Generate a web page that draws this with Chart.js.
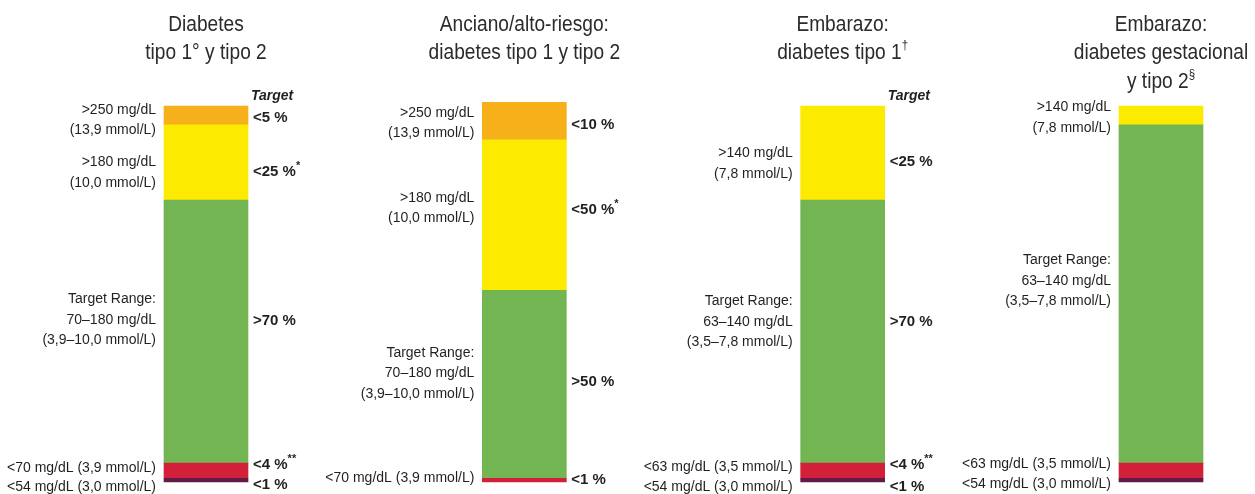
<!DOCTYPE html>
<html>
<head>
<meta charset="utf-8">
<script src="https://cdn.jsdelivr.net/npm/chart.js@4.4.1/dist/chart.umd.min.js"></script>
<style>
  html, body { margin: 0; padding: 0; background: #ffffff; }
  #wrap { width: 1255px; height: 494px; }
</style>
</head>
<body>
<div id="wrap"><canvas id="tir" width="1255" height="494"></canvas></div>
<script>
// Time-in-range targets per population (percent of readings, stacked bottom to top)
const categories = [
  ["Diabetes", "tipo 1° y tipo 2"],
  ["Anciano/alto-riesgo:", "diabetes tipo 1 y tipo 2"],
  ["Embarazo:", "diabetes tipo 1†"],
  ["Embarazo:", "diabetes gestacional", "y tipo 2§"]
];

const veryLow  = [1, null, 1, 1];    // level 2 hypoglycaemia
const low      = [4, 1, 4, 4];       // level 1 hypoglycaemia
const inRange  = [70, 50, 70, 90];   // target range
const high     = [20, 40, 25, 5];    // level 1 hyperglycaemia
const veryHigh = [5, 10, null, null];// level 2 hyperglycaemia

// Glucose thresholds written beside each band
const veryLowRanges  = ["<54 mg/dL (3,0 mmol/L)", null, "<54 mg/dL (3,0 mmol/L)", "<54 mg/dL (3,0 mmol/L)"];
const lowRanges      = ["<70 mg/dL (3,9 mmol/L)", "<70 mg/dL (3,9 mmol/L)", "<63 mg/dL (3,5 mmol/L)", "<63 mg/dL (3,5 mmol/L)"];
const inRangeRanges  = [
  ["Target Range:", "70–180 mg/dL", "(3,9–10,0 mmol/L)"],
  ["Target Range:", "70–180 mg/dL", "(3,9–10,0 mmol/L)"],
  ["Target Range:", "63–140 mg/dL", "(3,5–7,8 mmol/L)"],
  ["Target Range:", "63–140 mg/dL", "(3,5–7,8 mmol/L)"]
];
const highRanges     = [[">180 mg/dL", "(10,0 mmol/L)"], [">180 mg/dL", "(10,0 mmol/L)"], [">140 mg/dL", "(7,8 mmol/L)"], [">140 mg/dL", "(7,8 mmol/L)"]];
const veryHighRanges = [[">250 mg/dL", "(13,9 mmol/L)"], [">250 mg/dL", "(13,9 mmol/L)"], null, null];

// Target percentages written to the right of each band
const targetHeader    = ["Target", "Target", "Target", null];
const veryLowTargets  = ["<1 %", null, "<1 %", null];
const lowTargets      = ["<4 %**", "<1 %", "<4 %**", null];
const inRangeTargets  = [">70 %", ">50 %", ">70 %", null];
const highTargets     = ["<25 %*", "<50 %*", "<25 %", null];
const veryHighTargets = ["<5 %", "<10 %", null, null];

const bandColors = ["#621a48", "#d3203a", "#73b553", "#fdea01", "#f6b11a"];

const series = [
  { name: "<54", values: veryLow,  ranges: veryLowRanges,  targets: veryLowTargets },
  { name: "<70", values: low,      ranges: lowRanges,      targets: lowTargets },
  { name: "TIR", values: inRange,  ranges: inRangeRanges,  targets: inRangeTargets },
  { name: ">180", values: high,    ranges: highRanges,     targets: highTargets },
  { name: ">250", values: veryHigh, ranges: veryHighRanges, targets: veryHighTargets }
];

// Draws text where † § * are raised and reduced; sx squeezes glyphs horizontally
function drawRich(ctx, text, x, y, align, font, supFont, rise, sx) {
  sx = sx || 1;
  const runs = [];
  for (const ch of text) {
    const sup = "†§*".includes(ch);
    const last = runs[runs.length - 1];
    if (last && last.sup === sup) last.t += ch; else runs.push({ t: ch, sup });
  }
  let total = 0;
  for (const r of runs) { ctx.font = r.sup ? supFont : font; r.w = ctx.measureText(r.t).width * sx; total += r.w; }
  let cx = align === "center" ? x - total / 2 : align === "right" ? x - total : x;
  ctx.textAlign = "left";
  ctx.textBaseline = "middle";
  for (const r of runs) {
    ctx.font = r.sup ? supFont : font;
    ctx.save();
    ctx.translate(cx, r.sup ? y - rise : y);
    ctx.scale(sx, 1);
    ctx.fillText(r.t, 0, 0);
    ctx.restore();
    cx += r.w;
  }
}

const bandLabels = {
  id: "bandLabels",
  afterDatasetsDraw(chart, args, opts) {
    const ctx = chart.ctx;
    const yScale = chart.scales.y;
    ctx.save();

    // column titles
    ctx.fillStyle = opts.titleColor;
    chart.data.labels.forEach((lines, i) => {
      const x = chart.scales.x.getPixelForValue(i);
      lines.forEach((line, k) => {
        drawRich(ctx, line, x, opts.titleTop + k * opts.titleLeading, "center",
          opts.titleFont, opts.titleSupFont, 8, opts.titleSqueeze);
      });
    });

    ctx.fillStyle = opts.color;
    const top = yScale.getPixelForValue(100);
    series.forEach((s, d) => {
      const meta = chart.getDatasetMeta(d);
      meta.data.forEach((el, i) => {
        const v = s.values[i];
        if (v === null || v === undefined) return;
        const y0 = Math.min(el.y, el.base), y1 = Math.max(el.y, el.base);
        const cy = (y0 + y1) / 2;
        const half = el.width / 2;

        const rng = s.ranges[i];
        if (rng) {
          const lines = Array.isArray(rng) ? rng : [rng];
          const y = cy + opts.leftShift[d][i] - (lines.length - 1) * opts.leading / 2;
          lines.forEach((ln, k) => drawRich(ctx, ln, el.x - half - opts.gap, y + k * opts.leading,
            "right", opts.font, opts.font, 0));
        }
        const tg = s.targets[i];
        if (tg) {
          drawRich(ctx, tg, el.x + half + 5, cy + opts.rightShift[d][i], "left",
            opts.boldFont, opts.supFont, 6);
        }
        if (d === 0 && targetHeader[i]) {
          ctx.font = opts.headerFont;
          ctx.textAlign = "left";
          ctx.textBaseline = "middle";
          ctx.fillText(targetHeader[i], el.x + half + 3, top - 10);
        }
      });
    });
    ctx.restore();
  }
};

new Chart(document.getElementById("tir"), {
  type: "bar",
  data: {
    labels: categories,
    datasets: series.map((s, d) => ({
      label: s.name,
      data: s.values,
      backgroundColor: bandColors[d],
      borderWidth: 0,
      barThickness: 84,
      clip: false
    }))
  },
  options: {
    responsive: false,
    animation: false,
    layout: { padding: { left: 206, right: 94, top: 106, bottom: 12 } },
    scales: {
      x: { stacked: true, offset: false, display: false },
      y: { stacked: true, min: 0, max: 100, display: false }
    },
    plugins: {
      legend: { display: false },
      tooltip: { enabled: false },
      bandLabels: {
        color: "#231f20",
        titleColor: "#2b2b2b",
        font: "14px 'Liberation Sans', Arial, sans-serif",
        boldFont: "bold 15px 'Liberation Sans', Arial, sans-serif",
        supFont: "bold 11px 'Liberation Sans', Arial, sans-serif",
        headerFont: "italic bold 14px 'Liberation Sans', Arial, sans-serif",
        titleFont: "21.5px 'Liberation Sans', Arial, sans-serif",
        titleSupFont: "13px 'Liberation Sans', Arial, sans-serif",
        titleSqueeze: 0.89,
        titleTop: 25,
        titleLeading: 28.5,
        leading: 20.5,
        gap: 8,
        // vertical nudges (px) per band, per column
        leftShift: [
          [7, 0, 7, 4],
          [-2.7, -2, -3.7, -6.7],
          [-11.6, -11, -9.6, -13],
          [10, -7, 10.5, 2],
          [4.6, 2, 0, 0]
        ],
        rightShift: [
          [5, 0, 7, 0],
          [-5.7, 0, -5.7, 0],
          [-10.6, -2, -9.6, 0],
          [9.6, -5, 9, 0],
          [2.6, 4, 0, 0]
        ]
      }
    }
  },
  plugins: [bandLabels]
});
</script>
</body>
</html>
